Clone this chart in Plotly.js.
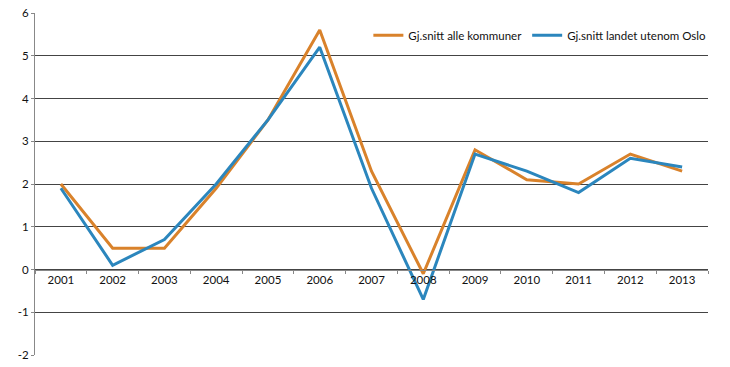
<!DOCTYPE html>
<html>
<head>
<meta charset="utf-8">
<script src="https://cdn.plot.ly/plotly-3.0.1.min.js"></script>
<style>html,body{margin:0;padding:0;background:#fff;}#chart{width:730px;height:367px;}</style>
</head>
<body>
<div id="chart"></div>
<script>
const years = ["2001","2002","2003","2004","2005","2006","2007","2008","2009","2010","2011","2012","2013"];
const alleKommuner = [2.0, 0.5, 0.5, 1.9, 3.5, 5.6, 2.3, -0.1, 2.8, 2.1, 2.0, 2.7, 2.3];
const utenomOslo = [1.9, 0.1, 0.7, 2.0, 3.5, 5.2, 1.9, -0.7, 2.7, 2.3, 1.8, 2.6, 2.4];
const yTickVals = [-2, -1, 0, 1, 2, 3, 4, 5, 6];
const yTickText = ["-2", "-1", "0", "1", "2", "3", "4", "5", "6"];

const traces = [
  {x: years, y: alleKommuner, type: "scatter", mode: "lines", name: "Gj.snitt alle kommuner",
   line: {color: "#D9822B", width: 3}},
  {x: years, y: utenomOslo, type: "scatter", mode: "lines", name: "Gj.snitt landet utenom Oslo",
   line: {color: "#2B86BD", width: 3}}
];

const layout = {
  width: 730, height: 367,
  margin: {l: 35, r: 22, t: 13, b: 12},
  paper_bgcolor: "#fff", plot_bgcolor: "#fff",
  font: {family: "Lato, Open Sans, sans-serif", size: 11, color: "#111"},
  showlegend: true,
  legend: {orientation: "h", x: 1.005, xanchor: "right", y: 0.935, yanchor: "middle",
           bgcolor: "rgba(255,255,255,0)", font: {size: 11.5, color: "#111"},
           tracegroupgap: 0},
  xaxis: {
    type: "category", range: [-0.5, 12.5], anchor: "free", position: 0.25,
    showline: true, linecolor: "#888", linewidth: 1,
    ticks: "outside", tickson: "boundaries", ticklen: 3, tickcolor: "#888",
    showgrid: false, zeroline: false, fixedrange: true,
    tickfont: {size: 11.5, color: "#111"}
  },
  yaxis: {
    range: [-2, 6], tickvals: yTickVals, ticktext: yTickText,
    showline: true, linecolor: "#888", linewidth: 1,
    ticks: "outside", ticklen: 3, tickcolor: "#888",
    showgrid: true, gridcolor: "#444", gridwidth: 1,
    zeroline: false, fixedrange: true,
    tickfont: {size: 11.5, color: "#111"}
  }
};

Plotly.newPlot("chart", traces, layout, {displayModeBar: false, staticPlot: true});
</script>
</body>
</html>
